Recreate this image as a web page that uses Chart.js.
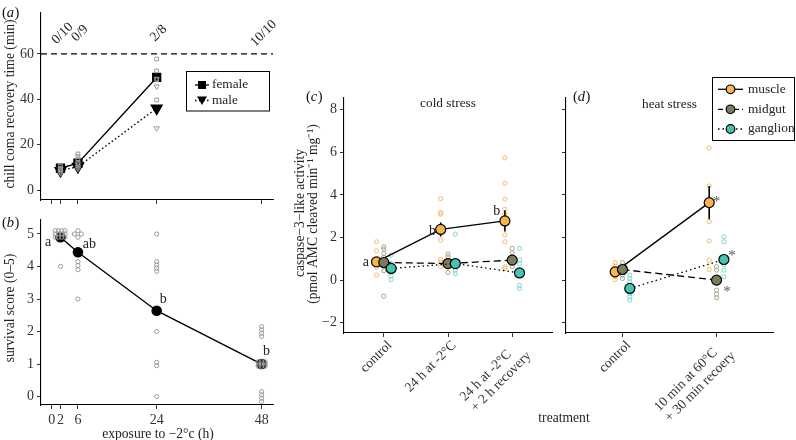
<!DOCTYPE html>
<html><head><meta charset="utf-8">
<script src="https://cdn.jsdelivr.net/npm/chart.js@4.4.1/dist/chart.umd.min.js"></script>
<style>
html,body{margin:0;padding:0;background:#fff;}
#wrap{position:relative;width:796px;height:440px;overflow:hidden;background:#fff;}
#wrap canvas{position:absolute;left:0;top:0;}
</style></head><body>
<div id="wrap">
<canvas id="cA" width="796" height="440"></canvas>
<canvas id="cB" width="796" height="440"></canvas>
<canvas id="cC" width="796" height="440"></canvas>
<canvas id="cD" width="796" height="440"></canvas>
</div>
<script>
// ================= DATA =================
// (a) chill coma recovery time
const hourTicks = [0, 2, 6, 24, 48];
const crtHours = [2, 6, 24];
const femaleCRT = [9.6, 11.8, 49.6];
const maleCRT = [8.5, 10.3, 36.0];
const femaleRawHours = [2, 2, 2, 6, 6, 6, 6, 24, 24, 24, 24];
const femaleRawCRT = [10.5, 9.6, 8.8, 15.9, 14.7, 13.5, 12.2, 57.7, 52.5, 48.6, 39.7];
const maleRawHours = [2, 2, 2, 6, 6, 6, 24, 24, 24];
const maleRawCRT = [9.2, 8.2, 7.4, 11.3, 10.2, 9.4, 49.0, 45.6, 27.2];
const crtTicks = [0, 20, 40, 60];
const crtCutoff = 60;
const comaLabels = ['0/10', '0/9', '2/8', '10/10'];
const comaLabelHours = [2, 6, 24, 48];

// (b) survival score
const survHours = [2, 6, 24, 48];
const survMean = [4.9, 4.44, 2.64, 1.0];
const survRawHours = [0.8, 1.55, 2.3, 3.05, 0.8, 1.55, 2.3, 3.05, 0.8, 1.55, 2.3, 3.05, 2,
  6, 5.2, 6.8, 6, 6, 6, 6, 6,
  24, 24, 24, 24, 24, 24, 24, 24, 24,
  48, 48, 48, 48, 47.2, 48, 48.8, 47.2, 48, 48.8, 47.2, 48, 48.8, 48, 48, 48, 48];
const survRawScore = [5.1, 5.1, 5.1, 5.1, 5.0, 5.0, 5.0, 5.0, 4.9, 4.9, 4.9, 4.9, 4.0,
  5.1, 5.0, 5.0, 4.9, 4.15, 4.03, 3.9, 3.0,
  5.0, 4.15, 4.05, 3.95, 3.85, 2.0, 1.05, 0.95, 0.0,
  2.15, 2.05, 1.95, 1.85, 1.07, 1.07, 1.07, 1.0, 1.0, 1.0, 0.93, 0.93, 0.93, 0.15, 0.05, -0.05, -0.15];
const survTicks = [0, 1, 2, 3, 4, 5];
const survLetters = ['a', 'ab', 'b', 'b'];
const survLetterHours = [-0.8, 8.6, 25.5, 49.1];
const survLetterScore = [4.75, 4.67, 2.98, 1.38];

// (c) cold stress, (d) heat stress – caspase-3-like activity
const tissues = ['muscle', 'midgut', 'ganglion'];
const coldCats = [['control'], ['24 h at -2°C'], ['24 h at -2°C', '+ 2 h recovery']];
const heatCats = [['control'], ['10 min at 60°C', '+ 30 min recoery']];
const caspTicks = [-2, 0, 2, 4, 6, 8];

const muscleCold = [0.86, 2.38, 2.78];
const midgutCold = [0.83, 0.78, 0.94];
const ganglionCold = [0.55, 0.78, 0.34];
const muscleColdSE = [0.12, 0.33, 0.50];
const midgutColdSE = [0.12, 0.10, 0.10];
const ganglionColdSE = [0.12, 0.14, 0.15];
const muscleColdRaw = [[1.8, 1.38, 0.97, 0.6, 0.24, 0.8], [3.83, 3.17, 3.1, 1.88, 0.97, 0.86, 0.63], [5.74, 4.55, 3.8, 3.33, 3.1, 2.12, 1.8, 0.63, 0.55]];
const midgutColdRaw = [[1.57, 1.46, 1.25, 1.07, 0.86, 0.63, 0.44, -0.75], [1.22, 1.1, 0.63, 0.36], [1.49, 1.29, 1.1, 0.86, 0.63]];
const ganglionColdRaw = [[1.18, 0.78, 0.39, 0.19, 0.03], [2.16, 0.63, 0.47, 0.31], [1.49, 0.94, 0.78, -0.24, -0.39]];
const coldLetters = ['a', 'b', 'b'];
const coldLetterX = [-0.28, 0.76, 1.76];
const coldLetterY = [0.85, 2.27, 3.21];

const muscleHeat = [0.39, 3.64];
const midgutHeat = [0.50, 0.0];
const ganglionHeat = [-0.39, 0.97];
const muscleHeatSE = [0.10, 0.78];
const midgutHeatSE = [0.10, 0.12];
const ganglionHeatSE = [0.12, 0.13];
const muscleHeatRaw = [[0.82, 0.66, 0.5, 0.31, 0.16, 0.03], [6.2, 4.42, 2.75, 1.84, 0.94, 0.5]];
const midgutHeatRaw = [[0.82, 0.66, 0.24, 0.08], [0.63, 0.47, -0.47, -0.66, -0.82]];
const ganglionHeatRaw = [[0.24, 0.08, -0.08, -0.31, -0.63, -0.78, -0.94], [2.04, 1.8, 1.1, 0.94, 0.71, 0.47, 0.16]];
const heatStarX = [1.0, 1.164, 1.111];
const heatStarY = [3.81, 1.27, -0.42];

// ================= STYLE =================
const SERIF = "'Liberation Serif','Times New Roman',serif";
const TICKTXT = '#333';
const RAWGREY = '#9a9a9a';
const FILL = { muscle: '#F6B54C', midgut: '#7E7A5C', ganglion: '#45C4B2' };
const RAWC = { muscle: '#F2BC6C', midgut: '#A9A488', ganglion: '#7ED7CB' };
const DASH = { muscle: [], midgut: [7, 4], ganglion: [1.5, 3] };
const SLOT = { muscle: -1, midgut: 0, ganglion: 1 };
const TS = 13.6;   // title text size
const KS = 14;     // tick text size

const pts = (xs, ys) => xs.map((x, i) => ({ x, y: ys[i] }));

function txt(ctx, s, x, y, o = {}) {
  ctx.save();
  ctx.font = (o.style || '') + ' ' + (o.size || TS) + 'px ' + SERIF;
  ctx.fillStyle = o.color || '#222';
  ctx.textAlign = o.align || 'center';
  ctx.textBaseline = o.base || 'middle';
  ctx.translate(x, y);
  if (o.rot) ctx.rotate(o.rot);
  ctx.fillText(s, 0, 0);
  ctx.restore();
}
function panelLabel(ctx, letter, x, y) {
  ctx.save();
  ctx.font = '14.5px ' + SERIF;
  ctx.textBaseline = 'middle'; ctx.textAlign = 'left'; ctx.fillStyle = '#111';
  const w = ctx.measureText('(').width;
  ctx.fillText('(', x, y);
  ctx.font = 'italic 14.5px ' + SERIF;
  ctx.fillText(letter, x + w, y);
  const w2 = ctx.measureText(letter).width;
  ctx.font = '14.5px ' + SERIF;
  ctx.fillText(')', x + w + w2 + 0.5, y);
  ctx.restore();
}
// rotated (45°) category labels, block top-right corner at the tick
function catLabels(ctx, xs, cats, axisY) {
  const size = 13.6, lh = 15, asc = 9.5;
  ctx.save();
  ctx.font = size + 'px ' + SERIF;
  ctx.fillStyle = TICKTXT;
  ctx.textAlign = 'left'; ctx.textBaseline = 'alphabetic';
  cats.forEach((lines, i) => {
    const W = Math.max(...lines.map(l => ctx.measureText(l).width));
    ctx.save();
    ctx.translate(xs.getPixelForValue(i) + 2, axisY + 6);
    ctx.rotate(-Math.PI / 4);
    lines.forEach((l, k) => ctx.fillText(l, -W, asc + k * lh));
    ctx.restore();
  });
  ctx.restore();
}

function xAxis(min, max, ticks, height, extra = {}) {
  return Object.assign({
    type: 'linear', min, max,
    afterBuildTicks: s => { s.ticks = ticks.map(v => ({ value: v })); },
    afterFit: s => { s.height = height; },
    border: { display: true, color: '#000', width: 1.1 },
    grid: { display: true, drawOnChartArea: false, drawTicks: true, tickLength: 4, color: '#000', tickColor: '#333' },
    ticks: { display: false, font: { family: SERIF, size: KS }, color: TICKTXT, padding: 3, autoSkip: false, maxRotation: 0 }
  }, extra);
}
function yAxis(min, max, ticks, width, showLabels) {
  return {
    type: 'linear', min, max,
    afterBuildTicks: s => { s.ticks = ticks.map(v => ({ value: v })); },
    afterFit: s => { s.width = width; },
    border: { display: true, color: '#000', width: 1.1 },
    grid: { display: true, drawOnChartArea: false, drawTicks: true, tickLength: 4, color: '#000', tickColor: '#333' },
    ticks: {
      display: showLabels, font: { family: SERIF, size: KS }, color: TICKTXT, padding: 3,
      callback: v => (v < 0 ? '\u2212' + Math.abs(v) : String(v))
    }
  };
}
function opts(area, yW, xH, x, y, drawFn) {
  return {
    type: 'line',
    options: {
      responsive: false, animation: false, devicePixelRatio: 1,
      layout: { padding: { left: area.left - yW, top: area.top, right: 796 - area.right, bottom: 440 - area.bottom - xH } },
      plugins: { legend: { display: false }, tooltip: { enabled: false } },
      scales: { x, y },
      elements: { line: { tension: 0 } }
    },
    plugins: [{ id: 'extras', afterDraw: c => drawFn(c, c.ctx, c.scales.x, c.scales.y) }]
  };
}

// ================= PANEL (a) =================
{
  const cfg = opts({ left: 41, right: 273, top: 13, bottom: 200 }, 30, 10,
    xAxis(-2.45, 50.6, hourTicks, 10),
    yAxis(-4.4, 78, crtTicks, 30, true),
    (c, ctx, xs, ys) => {
      ctx.save(); ctx.strokeStyle = '#000'; ctx.lineWidth = 1.2; ctx.setLineDash([6, 4]);
      ctx.beginPath(); ctx.moveTo(c.chartArea.left, ys.getPixelForValue(crtCutoff));
      ctx.lineTo(c.chartArea.right, ys.getPixelForValue(crtCutoff)); ctx.stroke(); ctx.restore();
      comaLabels.forEach((l, i) => txt(ctx, l, xs.getPixelForValue(comaLabelHours[i]) + 2, ys.getPixelForValue(69), { size: 13.6, rot: -Math.PI / 4 }));
      txt(ctx, 'chill coma recovery time (min)', 10, 104, { rot: -Math.PI / 2 });
      panelLabel(ctx, 'a', 2, 13);
      // legend
      ctx.save(); ctx.strokeStyle = '#000'; ctx.lineWidth = 1; ctx.strokeRect(186.5, 71.5, 83, 39.5);
      ctx.lineWidth = 1.3; ctx.beginPath(); ctx.moveTo(195, 85); ctx.lineTo(209, 85); ctx.stroke();
      ctx.fillStyle = '#000'; ctx.fillRect(198, 81, 8, 8);
      ctx.setLineDash([1.5, 2.5]); ctx.beginPath(); ctx.moveTo(195, 100.5); ctx.lineTo(209, 100.5); ctx.stroke();
      ctx.setLineDash([]); ctx.beginPath(); ctx.moveTo(197, 96.5); ctx.lineTo(207, 96.5); ctx.lineTo(202, 105); ctx.closePath(); ctx.fill();
      ctx.restore();
      txt(ctx, 'female', 212, 85, { align: 'left', size: 13.3 });
      txt(ctx, 'male', 212, 100.5, { align: 'left', size: 13.3 });
    });
  cfg.data = {
    datasets: [
      { data: pts(crtHours, femaleCRT), borderColor: '#000', borderWidth: 1.4, pointStyle: 'rect', pointRadius: 5.6, pointBackgroundColor: '#000', pointBorderColor: '#000', order: 3 },
      { data: pts(crtHours, maleCRT), borderColor: '#000', borderWidth: 1.4, borderDash: [1.5, 2.5], pointStyle: 'triangle', rotation: 180, pointRadius: 6.2, pointBackgroundColor: '#000', pointBorderColor: '#000', order: 3 },
      { data: pts(femaleRawHours, femaleRawCRT), showLine: false, pointStyle: 'rect', pointRadius: 2.6, pointBackgroundColor: 'rgba(0,0,0,0)', pointBorderColor: RAWGREY, pointBorderWidth: 1, order: 1 },
      { data: pts(maleRawHours, maleRawCRT), showLine: false, pointStyle: 'triangle', rotation: 180, pointRadius: 3, pointBackgroundColor: 'rgba(0,0,0,0)', pointBorderColor: RAWGREY, pointBorderWidth: 1, order: 1 }
    ]
  };
  new Chart(document.getElementById('cA'), cfg);
}

// ================= PANEL (b) =================
{
  const x = xAxis(-2.45, 50.6, hourTicks, 35);
  x.ticks.display = true; x.ticks.padding = 3;
  const cfg = opts({ left: 41, right: 273, top: 220, bottom: 405 }, 30, 35, x,
    yAxis(-0.26, 5.43, survTicks, 30, true),
    (c, ctx, xs, ys) => {
      survLetters.forEach((l, i) => txt(ctx, l, xs.getPixelForValue(survLetterHours[i]), ys.getPixelForValue(survLetterScore[i]), { size: 14 }));
      txt(ctx, 'survival score (0\u20135)', 10, 308, { rot: -Math.PI / 2 });
      txt(ctx, 'exposure to \u22122\u00b0c (h)', 158, 434);
      panelLabel(ctx, 'b', 2, 223);
    });
  cfg.data = {
    datasets: [
      { data: pts(survHours, survMean), borderColor: '#000', borderWidth: 1.4, pointRadius: 4.6, pointBackgroundColor: '#000', pointBorderColor: '#000', order: 3 },
      { data: pts(survRawHours, survRawScore), showLine: false, pointRadius: 2.1, pointBackgroundColor: 'rgba(0,0,0,0)', pointBorderColor: RAWGREY, pointBorderWidth: 1, order: 1 }
    ]
  };
  new Chart(document.getElementById('cB'), cfg);
}

// ================= PANELS (c) & (d) =================
function caspDatasets(means, ses, raws, step) {
  const ds = [];
  tissues.forEach((t, k) => {
    const off = SLOT[t] * step;
    raws[k].forEach((vals, i) => {
      ds.push({ data: vals.map(v => ({ x: i + off, y: v })), showLine: false, pointRadius: 2.1, pointBackgroundColor: 'rgba(0,0,0,0)', pointBorderColor: RAWC[t], pointBorderWidth: 1, order: 9 });
    });
    means[k].forEach((m, i) => {
      ds.push({ data: [{ x: i + off, y: m - ses[k][i] }, { x: i + off, y: m + ses[k][i] }], borderColor: '#000', borderWidth: 1.6, pointRadius: 0, order: 5 });
    });
  });
  tissues.forEach((t, k) => {
    const off = SLOT[t] * step;
    ds.push({ data: means[k].map((m, i) => ({ x: i + off, y: m })), borderColor: '#000', borderWidth: 1.3, borderDash: DASH[t], pointRadius: 5, pointBackgroundColor: FILL[t], pointBorderColor: '#000', pointBorderWidth: 1.2, order: 1 - k * 0.1 });
  });
  return ds;
}
{
  const cfg = opts({ left: 344, right: 552, top: 98, bottom: 333 }, 50, 107,
    xAxis(-0.62, 2.62, coldCats.map((_, i) => i), 107),
    yAxis(-2.48, 8.55, caspTicks, 50, true),
    (c, ctx, xs, ys) => {
      catLabels(ctx, xs, coldCats, c.chartArea.bottom);
      coldLetters.forEach((l, i) => txt(ctx, l, xs.getPixelForValue(coldLetterX[i]), ys.getPixelForValue(coldLetterY[i]), { size: 14 }));
      txt(ctx, 'cold stress', (c.chartArea.left + c.chartArea.right) / 2, 103.5, { size: 13.3 });
      txt(ctx, 'caspase\u22123\u2212like activity', 300, 213, { rot: -Math.PI / 2 });
      txt(ctx, '(pmol AMC cleaved min\u207b\u00b9 mg\u207b\u00b9)', 313.5, 214, { rot: -Math.PI / 2 });
      txt(ctx, 'treatment', 564, 418);
      panelLabel(ctx, 'c', 306, 97);
    });
  cfg.data = { datasets: caspDatasets([muscleCold, midgutCold, ganglionCold], [muscleColdSE, midgutColdSE, ganglionColdSE], [muscleColdRaw, midgutColdRaw, ganglionColdRaw], 0.114) };
  new Chart(document.getElementById('cC'), cfg);
}
{
  const cfg = opts({ left: 566, right: 773, top: 98, bottom: 333 }, 10, 107,
    xAxis(-0.6, 1.6, heatCats.map((_, i) => i), 107),
    yAxis(-2.48, 8.55, caspTicks, 10, false),
    (c, ctx, xs, ys) => {
      catLabels(ctx, xs, heatCats, c.chartArea.bottom);
      heatStarX.forEach((sx, i) => txt(ctx, '*', xs.getPixelForValue(sx), ys.getPixelForValue(heatStarY[i]) + 3, { size: 15, color: '#555' }));
      txt(ctx, 'heat stress', (c.chartArea.left + c.chartArea.right) / 2, 104.5, { size: 13.3 });
      panelLabel(ctx, 'd', 573, 97.5);
      // legend
      ctx.save(); ctx.strokeStyle = '#000'; ctx.lineWidth = 1; ctx.strokeRect(712.5, 77.5, 82, 63);
      const ly = [89.3, 109.3, 129];
      tissues.forEach((t, k) => {
        ctx.strokeStyle = '#000';
        ctx.lineWidth = 1.3; ctx.setLineDash(k === 1 ? [5, 3] : DASH[t]);
        ctx.beginPath(); ctx.moveTo(718, ly[k]); ctx.lineTo(743, ly[k]); ctx.stroke();
        ctx.setLineDash([]); ctx.beginPath(); ctx.arc(730.5, ly[k], 4.3, 0, Math.PI * 2);
        ctx.fillStyle = FILL[t]; ctx.fill(); ctx.lineWidth = 1.2; ctx.stroke();
        txt(ctx, t, 748, ly[k], { align: 'left', size: 13.3 });
      });
      ctx.restore();
    });
  cfg.data = { datasets: caspDatasets([muscleHeat, midgutHeat, ganglionHeat], [muscleHeatSE, midgutHeatSE, ganglionHeatSE], [muscleHeatRaw, midgutHeatRaw, ganglionHeatRaw], 0.078) };
  new Chart(document.getElementById('cD'), cfg);
}
</script>
</body></html>
